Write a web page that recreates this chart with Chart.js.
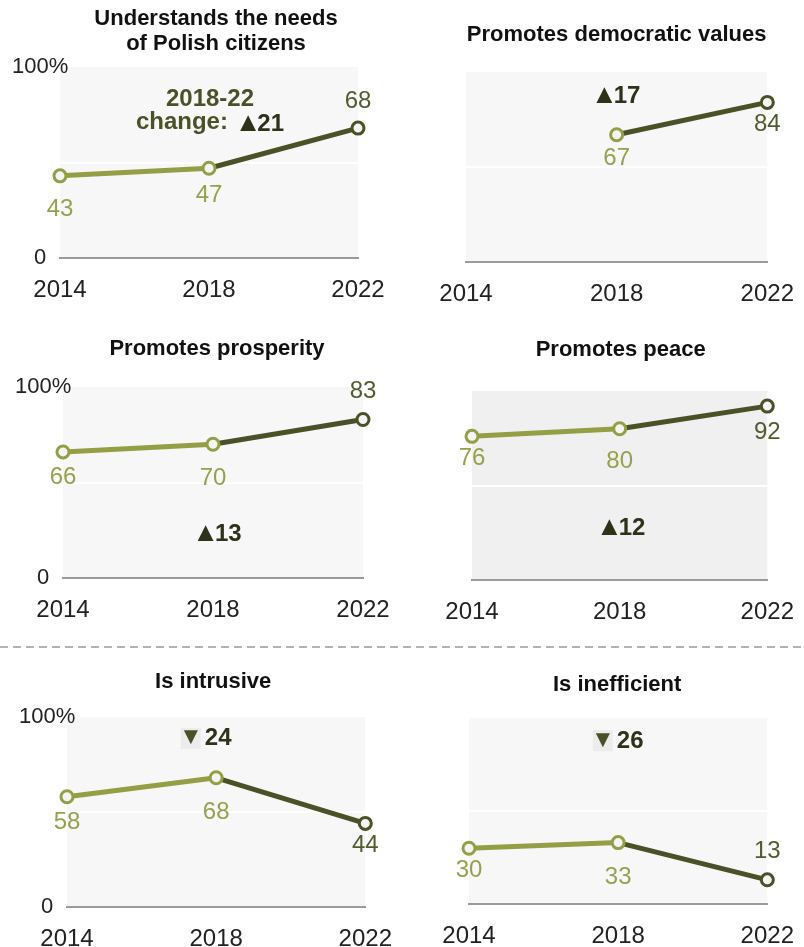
<!DOCTYPE html>
<html>
<head>
<meta charset="utf-8">
<script src="https://cdn.jsdelivr.net/npm/chart.js@4.4.0/dist/chart.umd.min.js"></script>
<style>
  body { margin: 0; background: #fff; width: 804px; height: 947px; overflow: hidden; position: relative; }
  .panel { position: absolute; }
  .panel canvas { display: block; }
  #sep { position: absolute; left: 0; top: 645px; }
</style>
</head>
<body>
<canvas id="sep" width="804" height="4"></canvas>
<script>
// data
const years = ['2014', '2018', '2022'];
const needsPolish = [43, 47, 68];
const democratic = [null, 67, 84];
const prosperity = [66, 70, 83];
const peace = [76, 80, 92];
const intrusive = [58, 68, 44];
const inefficient = [30, 33, 13];
const changes = [21, 17, 13, 12, -24, -26];
const titles = [
  ['Understands the needs', 'of Polish citizens'],
  ['Promotes democratic values'],
  ['Promotes prosperity'],
  ['Promotes peace'],
  ['Is intrusive'],
  ['Is inefficient']
];
const yTicks = [0, 50, 100];

const FONT = '"Liberation Sans", Arial, sans-serif';
const LIGHT = '#939e45';
const DARK = '#4a5126';
const LIGHT_TXT = '#97a04c';
const DARK_TXT = '#515c2e';
const NOTE = '#2e3219';

// layout of each small chart (canvas box + plot area, page pixels)
const panels = [
  { data: needsPolish, box: [0, 0, 402, 322], area: [60, 67, 358, 258], yLabels: true, bg: '#f7f7f7',
    titleY: [19, 44], titleDx: 7, labelDy: [34, 27, -27], note: { kind: 'first', dx: 1, y: [83, 71] } },
  { data: democratic, box: [402, 0, 402, 322], area: [466, 72, 768, 262], yLabels: false, bg: '#f7f7f7',
    titleY: [35], titleDx: 0, labelDy: [0, 24, 22], note: { kind: 'up', dx: -1, y: [88] } },
  { data: prosperity, box: [0, 322, 402, 320], area: [63, 387, 363, 578], yLabels: true, bg: '#f7f7f7',
    titleY: [27], titleDx: 4, labelDy: [25, 34, -28], note: { kind: 'up', dx: 4, y: [24] } },
  { data: peace, box: [402, 322, 402, 320], area: [472, 391, 771, 580], yLabels: false, bg: '#f0f0f0',
    titleY: [28], titleDx: 1, labelDy: [22, 33, 26], note: { kind: 'up', dx: 1, y: [28.5] } },
  { data: intrusive, box: [0, 652, 402, 295], area: [67, 717, 369, 907], yLabels: true, bg: '#f7f7f7',
    titleY: [29.5], titleDx: -3, labelDy: [26, 35, 22], note: { kind: 'down', dx: -10, y: [88.5] } },
  { data: inefficient, box: [402, 652, 402, 295], area: [469, 718, 769, 904], yLabels: false, bg: '#f7f7f7',
    titleY: [32.5], titleDx: -1, labelDy: [22, 35, -28], note: { kind: 'down', dx: 0, y: [87.5] } }
];

// dashed separator
(function () {
  const c = document.getElementById('sep').getContext('2d');
  c.strokeStyle = '#9a9a9a';
  c.lineWidth = 1.5;
  c.setLineDash([8, 5]);
  c.beginPath();
  c.moveTo(0, 2);
  c.lineTo(804, 2);
  c.stroke();
})();

const ARROW_TRIM = 4;

// "▲17" style text: larger triangle glyph + bold digits, centred on cx
function arrowWidth(ctx, arrow, digits) {
  ctx.save();
  ctx.font = '27px ' + FONT;
  const wa = ctx.measureText(arrow).width - ARROW_TRIM;
  ctx.font = 'bold 24px ' + FONT;
  const wd = ctx.measureText(digits).width;
  ctx.restore();
  return [wa, wd];
}

function arrowText(ctx, arrow, digits, cx, cy, color) {
  const [wa, wd] = arrowWidth(ctx, arrow, digits);
  ctx.save();
  ctx.textAlign = 'left';
  ctx.textBaseline = 'alphabetic';
  const sx = cx - (wa + wd) / 2;
  const base = cy + 8.6;
  ctx.fillStyle = color;
  ctx.font = '27px ' + FONT;
  ctx.fillText(arrow, sx, base);
  ctx.font = 'bold 24px ' + FONT;
  ctx.fillText(digits, sx + wa, base);
  ctx.restore();
}

const decoPlugin = {
  id: 'deco',
  beforeDraw(chart, args, o) {
    const a = chart.chartArea, ctx = chart.ctx;
    ctx.save();
    ctx.fillStyle = o.bg;
    ctx.fillRect(a.left, a.top, a.right - a.left, a.bottom - a.top);
    ctx.restore();
  },
  afterDatasetsDraw(chart, args, o) {
    const a = chart.chartArea, ctx = chart.ctx;
    const xs = chart.scales.x, ys = chart.scales.y;
    const values = chart.data.datasets[0].data;
    const meta = chart.getDatasetMeta(0);
    ctx.save();
    // title
    ctx.fillStyle = '#111';
    ctx.font = 'bold 22px ' + FONT;
    ctx.textAlign = 'center';
    ctx.textBaseline = 'middle';
    const cx = (a.left + a.right) / 2 + o.titleDx;
    o.title.forEach((t, i) => ctx.fillText(t, cx, o.titleY[i]));

    // value labels
    ctx.font = '24px ' + FONT;
    meta.data.forEach((pt, i) => {
      if (values[i] == null) return;
      ctx.fillStyle = i < 2 ? LIGHT_TXT : DARK_TXT;
      ctx.fillText(String(values[i]), pt.x, pt.y + o.labelDy[i]);
    });

    // change note
    const n = o.note, ch = o.change;
    const nx = xs.getPixelForValue(1) + n.dx;
    ctx.font = 'bold 24px ' + FONT;
    if (n.kind === 'first') {
      ctx.fillStyle = DARK;
      ctx.fillText('2018-22', nx, ys.getPixelForValue(n.y[0]));
      const p1 = 'change: ';
      const w1 = ctx.measureText(p1).width;
      const [wa, wd] = arrowWidth(ctx, '\u25B2', String(ch));
      const sx = nx - (w1 + wa + wd) / 2;
      const yy = ys.getPixelForValue(n.y[1]);
      ctx.textAlign = 'left';
      ctx.fillStyle = DARK;
      ctx.fillText(p1, sx, yy);
      arrowText(ctx, '\u25B2', String(ch), sx + w1 + (wa + wd) / 2, yy, NOTE);
    } else if (n.kind === 'up') {
      arrowText(ctx, '\u25B2', String(ch), nx, ys.getPixelForValue(n.y[0]), NOTE);
    } else {
      const txt = String(Math.abs(ch));
      const tw = ctx.measureText(txt).width;
      const bw = 20, gap = 4;
      const sx = nx - (bw + gap + tw) / 2;
      const yy = ys.getPixelForValue(n.y[0]);
      ctx.fillStyle = '#ececec';
      ctx.fillRect(sx, yy - 11, bw, 21);
      ctx.fillStyle = DARK;
      ctx.font = '24px ' + FONT;
      ctx.fillText('\u25BC', sx + bw / 2, yy - 1);
      ctx.font = 'bold 24px ' + FONT;
      ctx.textAlign = 'left';
      ctx.fillStyle = NOTE;
      ctx.fillText(txt, sx + bw + gap, yy);
    }
    ctx.restore();
  }
};

panels.forEach((p, idx) => {
  const [bx, by, bw, bh] = p.box;
  const [al, at, ar, ab] = p.area;
  const xAxisH = 40;
  const yAxisW = al - bx;
  const div = document.createElement('div');
  div.className = 'panel';
  div.style.left = bx + 'px';
  div.style.top = by + 'px';
  const cv = document.createElement('canvas');
  cv.width = bw;
  cv.height = bh;
  div.appendChild(cv);
  document.body.appendChild(div);

  new Chart(cv, {
    type: 'line',
    data: {
      labels: years,
      datasets: [{
        data: p.data,
        borderWidth: 5,
        segment: { borderColor: (c) => (c.p0DataIndex === 0 ? LIGHT : DARK) },
        borderColor: LIGHT,
        pointRadius: 6,
        pointBorderWidth: 3,
        pointBackgroundColor: '#f4f4f4',
        pointBorderColor: [LIGHT, LIGHT, DARK],
        spanGaps: false,
        clip: false,
        tension: 0
      }]
    },
    options: {
      responsive: false,
      animation: false,
      devicePixelRatio: 1,
      events: [],
      layout: {
        padding: { left: 0, right: bx + bw - ar, top: at - by, bottom: by + bh - ab - xAxisH }
      },
      plugins: {
        legend: { display: false },
        tooltip: { enabled: false },
        deco: {
          bg: p.bg, title: titles[idx], titleY: p.titleY, titleDx: p.titleDx,
          labelDy: p.labelDy, note: p.note, change: changes[idx]
        }
      },
      scales: {
        x: {
          offset: false,
          grid: { display: false },
          border: { display: true, color: '#9b9b9b', width: 2 },
          ticks: { color: '#222', font: { size: 24, family: FONT }, padding: 10, maxRotation: 0, autoSkip: false },
          afterFit: (s) => { s.height = xAxisH; }
        },
        y: {
          min: 0,
          max: 100,
          afterBuildTicks: (s) => { s.ticks = yTicks.map((v) => ({ value: v })); },
          grid: {
            drawTicks: false,
            lineWidth: 2,
            color: (c) => (c.tick && c.tick.value === 50 ? '#ffffff' : 'rgba(0,0,0,0)')
          },
          border: { display: false },
          ticks: {
            display: p.yLabels,
            mirror: true,
            crossAlign: 'center',
            padding: -48,
            color: '#222',
            font: { size: 22, family: FONT },
            callback: (v) => (v === 100 ? '100%' : v === 0 ? '0' : '')
          },
          afterFit: (s) => { s.width = yAxisW; }
        }
      }
    },
    plugins: [decoPlugin]
  });
});
</script>
</body>
</html>
